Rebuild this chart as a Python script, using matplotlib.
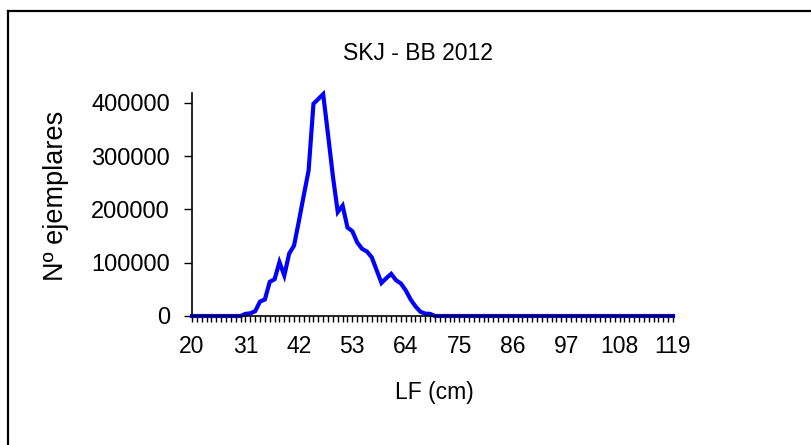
import numpy as np
import matplotlib
matplotlib.use("Agg")
import matplotlib.pyplot as plt
from matplotlib.lines import Line2D

plt.rcParams['font.family'] = ['Liberation Sans', 'DejaVu Sans']

# length classes (cm) and number of fish per class
lengths = np.arange(20, 120)
counts_30_70 = [0, 4000, 5000, 9000, 27000, 31000, 64000, 69000, 101000, 76000,
                117000, 132000, 178000, 226000, 273000, 398000, 407000, 416000,
                340000, 262000, 195000, 207000, 166000, 159000, 138000, 126000,
                121000, 110000, 86000, 62000, 71000, 79000, 67000, 61000, 48000,
                31000, 18000, 8000, 4500, 4000, 0]
counts = [0] * 10 + counts_30_70 + [0] * 49
label_ticks = [20, 31, 42, 53, 64, 75, 86, 97, 108, 119]
y_ticks = [0, 100000, 200000, 300000, 400000]

W, H = 812, 445
fig = plt.figure(figsize=(W / 100, H / 100), dpi=100)
ax = fig.add_axes([192 / W, 1 - 316 / H, (673 - 192) / W, (316 - 93) / H])

ax.plot(lengths, counts, color='#0000ff', lw=3, solid_joinstyle='miter',
        clip_on=False)

ax.set_xlim(20, 119)
ax.set_ylim(0, 418200)
ax.set_xticks(label_ticks)
ax.set_xticks(lengths, minor=True)
ax.set_yticks(y_ticks)
ax.set_yticklabels([str(v) for v in y_ticks])

for s in ['top', 'right']:
    ax.spines[s].set_visible(False)
for s in ['left', 'bottom']:
    ax.spines[s].set_linewidth(1.2)
    ax.spines[s].set_color('black')

ax.tick_params(axis='x', which='both', direction='out', length=4, width=1,
               labelsize=16.5, pad=10)
ax.tick_params(axis='y', direction='out', length=6, width=1,
               labelsize=17, pad=10)

fig.text(418 / W, 1 - 53.5 / H, 'SKJ - BB 2012', ha='center', va='center', fontsize=16.5)
fig.text(434 / W, 1 - 392 / H, 'LF (cm)', ha='center', va='center', fontsize=16.5)
fig.text(56 / W, 1 - 196 / H, 'Nº ejemplares', ha='center', va='center',
         rotation=90, fontsize=19.5)

# chart frame (only top and left edges show)
fig.add_artist(Line2D([8 / W, 1], [1 - 11 / H, 1 - 11 / H], color='black', lw=1.6))
fig.add_artist(Line2D([8 / W, 8 / W], [0, 1 - 11 / H], color='black', lw=1.6))

fig.savefig('out.png', dpi=100)
